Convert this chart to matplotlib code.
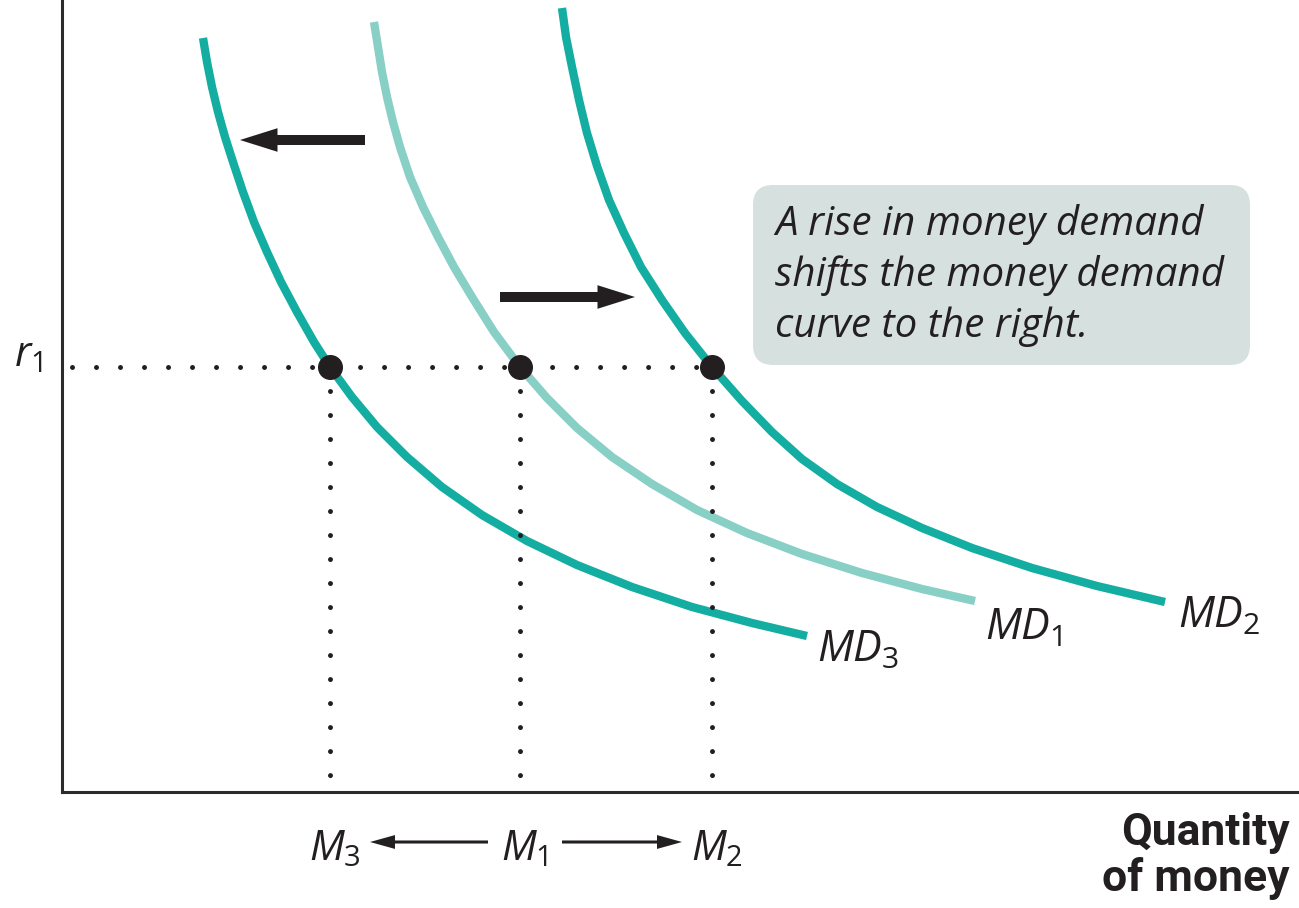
import matplotlib
matplotlib.use("Agg")
import matplotlib.pyplot as plt
from matplotlib.patches import FancyBboxPatch, FancyArrowPatch, ArrowStyle

plt.rcParams['mathtext.fontset'] = 'custom'
plt.rcParams['mathtext.it'] = 'Open Sans:italic'
plt.rcParams['mathtext.rm'] = 'Open Sans'
plt.rcParams['font.family'] = ['Open Sans', 'DejaVu Sans']

# money demand curves (quantity of money, interest rate)
md3_q = [141, 145, 150, 156, 163, 171, 181, 192, 205, 219, 235, 252, 268,
         290, 315, 345, 380, 420, 465, 515, 570, 630, 690, 745]
md3_r = [754, 730, 705, 680, 655, 630, 600, 570, 540, 510, 480, 450, 425,
         395, 365, 335, 305, 277, 251, 227, 205, 185, 169, 156]

md1_q = [312, 316, 320, 325, 331, 338, 348, 361, 376, 392, 410, 432, 458,
         485, 515, 550, 590, 635, 685, 740, 800, 860, 913]
md1_r = [770, 745, 720, 695, 670, 645, 615, 585, 555, 525, 495, 460, 425,
         394, 364, 335, 308, 282, 259, 238, 219, 203, 191]

md2_q = [500, 504, 510, 517, 525, 535, 547, 562, 579, 600, 623, 650,
         680, 710, 740, 775, 815, 860, 910, 970, 1035, 1103]
md2_r = [784, 755, 725, 692, 659, 626, 592, 559, 525, 492, 459, 425,
         391, 360, 333, 308, 285, 264, 244, 224, 206, 190]

# interest rate r1 and the quantities demanded at it
r1 = 425
m_points = [268, 458, 650]          # M3, M1, M2
m_labels = [r'$M_3$', r'$M_1$', r'$M_2$']

curve_labels = [r'$MD_3$', r'$MD_1$', r'$MD_2$']
note_lines = ['A rise in money demand',
              'shifts the money demand',
              'curve to the right.']

TEAL = '#14ada1'
LIGHT = '#88cfc6'
INK = '#231f20'

fig = plt.figure(figsize=(12.99, 9.08), dpi=100)
ax = fig.add_axes([62 / 1299, 116 / 908, 1237 / 1299, 792 / 908])
ax.set_xlim(0, 1237)
ax.set_ylim(0, 792)
ax.set_xticks([])
ax.set_yticks([])
ax.spines['top'].set_visible(False)
ax.spines['right'].set_visible(False)
for s in ['left', 'bottom']:
    ax.spines[s].set_linewidth(2.2)
    ax.spines[s].set_color('#2b2b2b')

# curves
ax.plot(md3_q, md3_r, color=TEAL, lw=6, solid_capstyle='butt', solid_joinstyle='round', zorder=2)
ax.plot(md1_q, md1_r, color=LIGHT, lw=6, solid_capstyle='butt', solid_joinstyle='round', zorder=2)
ax.plot(md2_q, md2_r, color=TEAL, lw=6, solid_capstyle='butt', solid_joinstyle='round', zorder=2)

# dotted guides
dots = (0, (0.001, 4.8))
ax.plot([10, m_points[-1]], [r1, r1], color=INK, lw=3.6, linestyle=dots,
        dash_capstyle='round', zorder=3)
for m in m_points:
    ax.plot([m, m], [r1, 0], color=INK, lw=3.6, linestyle=dots,
            dash_capstyle='round', zorder=3)

# equilibrium dots
ax.plot(m_points, [r1] * 3, 'o', color=INK, ms=17, zorder=4)

# shift arrows
big = ArrowStyle.Simple(head_length=27, head_width=17, tail_width=7.2)
ax.add_patch(FancyArrowPatch((303, 652), (178, 652), arrowstyle=big, mutation_scale=1,
                             shrinkA=0, shrinkB=0, fc=INK, ec='none', zorder=5))
ax.add_patch(FancyArrowPatch((438, 495), (573, 495), arrowstyle=big, mutation_scale=1,
                             shrinkA=0, shrinkB=0, fc=INK, ec='none', zorder=5))

# note box
ax.add_patch(FancyBboxPatch((691, 427), 497, 180, boxstyle='round,pad=0,rounding_size=20',
                            fc='#d6e1df', ec='none', zorder=1))
for i, line in enumerate(note_lines):
    ax.text(713, 557 - 51 * i, line, fontsize=29, style='italic', color=INK,
            ha='left', va='baseline', zorder=6)

# axis labels
ax.text(-34, 426, r'$r_1$', fontsize=30, color=INK, ha='center', va='baseline')
for m, lab in zip(m_points, m_labels):
    ax.text(m + 5, -68, lab, fontsize=30, color=INK, ha='center', va='baseline')

small = ArrowStyle.Simple(head_length=18, head_width=10, tail_width=2.2)
ax.add_patch(FancyArrowPatch((426, -50), (308, -50), arrowstyle=small, mutation_scale=1,
                             shrinkA=0, shrinkB=0, fc=INK, ec='none', clip_on=False))
ax.add_patch(FancyArrowPatch((500, -50), (620, -50), arrowstyle=small, mutation_scale=1,
                             shrinkA=0, shrinkB=0, fc=INK, ec='none', clip_on=False))

ax.text(1228, -53, 'Quantity', fontsize=32, family='Roboto', weight='bold',
        color=INK, ha='right', va='baseline')
ax.text(1228, -99, 'of money', fontsize=32, family='Roboto', weight='bold',
        color=INK, ha='right', va='baseline')

# curve labels
for q, r, lab in zip([755, 923, 1116], [130, 152, 164], curve_labels):
    ax.text(q, r, lab, fontsize=31, color=INK, ha='left', va='baseline')

fig.savefig('out.png', dpi=100)
